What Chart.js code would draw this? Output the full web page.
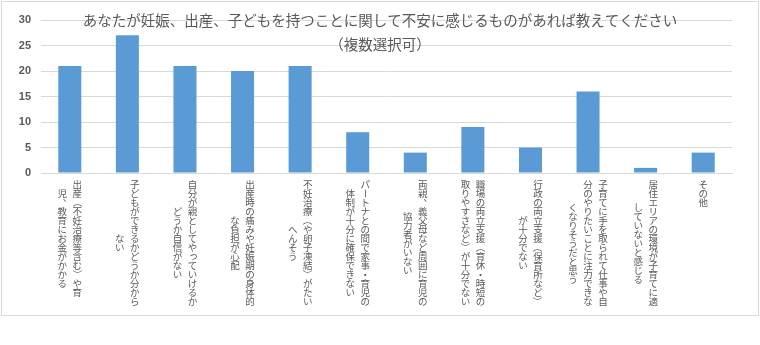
<!DOCTYPE html>
<html>
<head>
<meta charset="utf-8">
<script src="https://cdn.jsdelivr.net/npm/chart.js@4/dist/chart.umd.min.js"></script>
<style>
  html, body { margin: 0; padding: 0; background: #fff; }
  #wrap { width: 760px; height: 345px; position: relative; }
</style>
</head>
<body>
<div id="wrap"><canvas id="chart"></canvas></div>
<script>
// categories: one entry per bar, each split into the columns of vertical text
const categories = [
  ["出産（不妊治療等含む）や育", "児、教育にお金がかかる"],
  ["子どもができるかどうか分から", "ない"],
  ["自分が親としてやっていけるか", "どうか自信がない"],
  ["出産時の痛みや妊娠期の身体的", "な負担が心配"],
  ["不妊治療（や卵子凍結）がたい", "へんそう"],
  ["パートナとの間で家事・育児の", "体制が十分に確保できない"],
  ["両親、義父母など周囲に育児の", "協力者がいない"],
  ["職場の両立支援（育休・時短の", "取りやすさなど）が十分でない"],
  ["行政の両立支援（保育所など）", "が十分でない"],
  ["子育てに手を取られて仕事や自", "分のやりたいことに注力できな", "くなりそうだと思う"],
  ["居住エリアの環境が子育てに適", "していないと感じる"],
  ["その他"]
];
const counts = [21, 27, 21, 20, 21, 8, 4, 9, 5, 16, 1, 4];
const yTicks = [0, 5, 10, 15, 20, 25, 30];

const titleLines = [
  "あなたが妊娠、出産、子どもを持つことに関して不安に感じるものがあれば教えてください",
  "（複数選択可）"
];

const TEXT = "#595959";
const GRID = "#D9D9D9";

// chars that get turned sideways in vertical writing
const rotChars = "ー（）「」—…";
const smallKana = "ぁぃぅぇぉっゃゅょァィゥェォッャュョ";

function drawVerticalColumn(ctx, str, x, centerY, fs, pitch) {
  const chars = Array.from(str);
  let y = centerY - (chars.length * pitch) / 2 + pitch / 2;
  chars.forEach(ch => {
    ctx.save();
    if (rotChars.includes(ch)) {
      ctx.translate(x, y);
      ctx.rotate(Math.PI / 2);
      ctx.fillText(ch, 0, 0);
    } else if (ch === "、" || ch === "。") {
      ctx.fillText(ch, x + fs * 0.55, y - fs * 0.55);
    } else if (smallKana.includes(ch)) {
      ctx.fillText(ch, x + fs * 0.1, y - fs * 0.1);
    } else {
      ctx.fillText(ch, x, y);
    }
    ctx.restore();
    y += pitch;
  });
}

const decorPlugin = {
  id: "decor",
  beforeDraw(chart) {
    const ctx = chart.ctx;
    ctx.save();
    ctx.fillStyle = "#fff";
    ctx.fillRect(0, 0, chart.width, chart.height);
    ctx.strokeStyle = GRID;
    ctx.lineWidth = 1;
    ctx.strokeRect(1.5, 1.5, 757, 314);
    ctx.restore();
  },
  afterDraw(chart) {
    const ctx = chart.ctx;
    const x = chart.scales.x;

    // title sits over the plot like in the original
    ctx.save();
    ctx.fillStyle = TEXT;
    ctx.textAlign = "center";
    ctx.textBaseline = "middle";
    ctx.font = "14.5px 'Noto Sans CJK JP'";
    ctx.fillText(titleLines[0], 380, 20);
    ctx.fillText(titleLines[1], 380, 44);
    ctx.restore();

    // vertical category labels: block is top aligned, columns centred inside it,
    // first column on the right
    const fs = 9.5, pitch = 9, colGap = 15, blockTop = 180;
    ctx.save();
    ctx.fillStyle = TEXT;
    ctx.textAlign = "center";
    ctx.textBaseline = "middle";
    ctx.font = fs + "px 'Noto Sans CJK JP'";
    categories.forEach((cols, i) => {
      const cx = x.getPixelForTick(i);
      const n = cols.length;
      const longest = Math.max(...cols.map(c => Array.from(c).length));
      const centerY = blockTop + longest * pitch / 2;
      cols.forEach((col, j) => {
        const colX = cx + ((n - 1) / 2 - j) * colGap;
        drawVerticalColumn(ctx, col, colX, centerY, fs, pitch);
      });
    });
    ctx.restore();
  }
};

new Chart(document.getElementById("chart"), {
  type: "bar",
  data: {
    labels: categories,
    datasets: [{
      data: counts,
      backgroundColor: "#5B9BD5",
      borderWidth: 0,
      categoryPercentage: 1.0,
      barPercentage: 0.4
    }]
  },
  options: {
    responsive: true,
    maintainAspectRatio: false,
    animation: false,
    layout: { padding: { top: 20, right: 28, left: 0, bottom: 0 } },
    plugins: {
      legend: { display: false },
      tooltip: { enabled: false },
      title: { display: false }
    },
    scales: {
      x: {
        grid: { display: false },
        border: { color: GRID, width: 1 },
        ticks: { display: false },
        afterFit: scale => { scale.height = 172; }
      },
      y: {
        min: 0,
        max: 30,
        afterBuildTicks: scale => { scale.ticks = yTicks.map(v => ({ value: v })); },
        ticks: {
          color: TEXT,
          padding: 10,
          font: { family: "'Liberation Sans'", size: 11, weight: "bold" }
        },
        grid: { color: GRID, drawTicks: false },
        border: { display: false },
        afterFit: scale => { scale.width = 41; }
      }
    }
  },
  plugins: [decorPlugin]
});
</script>
</body>
</html>
